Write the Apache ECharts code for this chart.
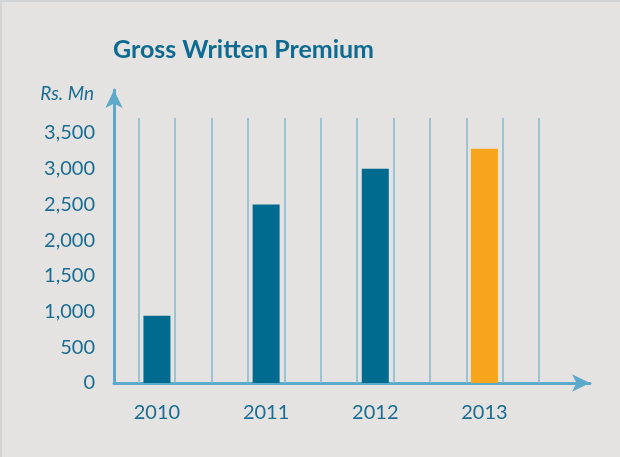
<!DOCTYPE html>
<html><head><meta charset="utf-8">
<script src="https://cdn.jsdelivr.net/npm/echarts@6/dist/echarts.min.js"></script>
<style>
html,body{margin:0;padding:0;background:#e4e3e1;}
#c{width:620px;height:457px;box-sizing:border-box;border-top:2px solid #d3d4d6;border-left:2px solid #d3d4d6;}
</style></head>
<body><div id="c"></div>
<script>
const years = ['2010', '2011', '2012', '2013'];
const premium = [940, 2500, 3000, 3280];
const yTicks = [0, 500, 1000, 1500, 2000, 2500, 3000, 3500];
const gridLineCount = 12;

const barColor = '#006a8f';
const highlight = '#f8a51e';
const axisColor = '#5ca9c9';
const textColor = '#1a6c92';

const barData = premium.map((v, i) => ({
  value: [i * 3 + 0.5, v],
  itemStyle: { color: i === premium.length - 1 ? highlight : barColor }
}));
const lines = [];
for (let k = 0; k < gridLineCount; k++) {
  lines.push([{ coord: [k, 0] }, { coord: [k, 3710] }]);
}

const chart = echarts.init(document.getElementById('c'));
chart.setOption({
  backgroundColor: '#e4e3e1',
  animation: false,
  title: [
    { text: 'Gross Written Premium', left: 106, top: 30,
      textStyle: { fontFamily: 'Lato', fontWeight: 'bold', fontSize: 25, color: '#0d6a90' } },
    { text: 'Rs. Mn', right: 521, top: 77,
      textStyle: { fontFamily: 'Lato', fontStyle: 'italic', fontWeight: 'normal', fontSize: 19, color: textColor } }
  ],
  grid: { left: 112, right: 30, top: 88, bottom: 74, containLabel: false },
  xAxis: {
    type: 'value', min: -0.68, max: 12.4,
    axisLine: { show: true, lineStyle: { color: axisColor, width: 3 }, symbol: ['none', 'arrow'], symbolSize: [13, 18] },
    axisTick: { show: false },
    splitLine: { show: false },
    axisLabel: {
      customValues: years.map((y, i) => i * 3 + 0.5),
      formatter: v => years[Math.round((v - 0.5) / 3)],
      fontFamily: 'Lato', fontSize: 20, color: textColor, margin: 20
    }
  },
  yAxis: {
    type: 'value', min: 0, max: 4102, interval: 500,
    axisLine: { show: true, onZero: false, lineStyle: { color: axisColor, width: 3 }, symbol: ['none', 'arrow'], symbolSize: [13, 18] },
    axisTick: { show: false },
    splitLine: { show: false },
    axisLabel: {
      customValues: yTicks,
      formatter: v => v.toLocaleString('en-US'),
      fontFamily: 'Lato', fontSize: 20, color: textColor, margin: 19,
      padding: [3, 0, 0, 0]
    }
  },
  series: [{
    type: 'bar',
    data: barData,
    barWidth: 27,
    markLine: {
      silent: true, symbol: 'none', label: { show: false },
      lineStyle: { color: '#84b8cf', width: 1.5, type: 'solid' },
      data: lines
    }
  }]
});
</script></body></html>
